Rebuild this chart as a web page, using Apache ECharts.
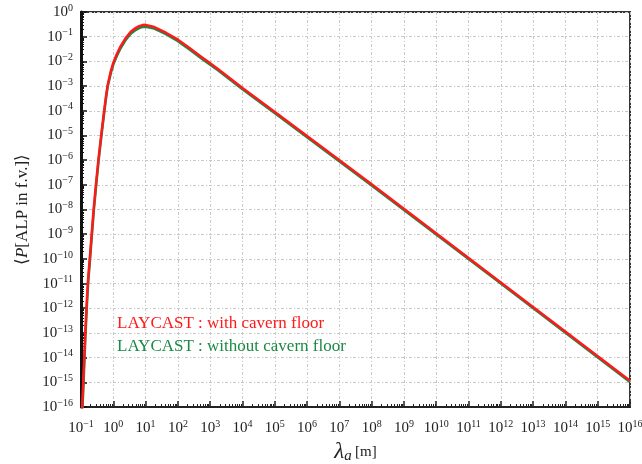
<!DOCTYPE html>
<html>
<head>
<meta charset="utf-8">
<script src="https://cdn.jsdelivr.net/npm/echarts@6/dist/echarts.min.js"></script>
<style>html,body{margin:0;padding:0;background:#fff}#c{width:642px;height:464px}</style>
</head>
<body>
<div id="c"></div>
<script>
// exponents (log10)
const lambdaExpRed = [-0.965,-0.93,-0.90,-0.87,-0.826,-0.785,-0.72,-0.67,-0.61,-0.535,-0.46,-0.38,-0.33,-0.286,-0.23,-0.18,-0.13,-0.078,0,0.11,0.23,0.39,0.54,0.70,0.80,0.90,1.0,1.06,1.27,1.63,1.99,2.35,2.72,3.0,3.23,4,5.15,8,12,16];
const probExpRed   = [-16.1,-15.0,-14.0,-13.05,-11.85,-10.9,-9.85,-9.0,-8.0,-6.95,-5.97,-5.05,-4.5,-4.02,-3.45,-3.0,-2.7,-2.40,-2.05,-1.70,-1.38,-1.04,-0.80,-0.64,-0.57,-0.53,-0.52,-0.53,-0.61,-0.84,-1.11,-1.45,-1.81,-2.08,-2.30,-3.08,-4.19,-6.98,-10.96,-14.94];
const lambdaExpGreen = [-0.955,-0.92,-0.89,-0.86,-0.816,-0.775,-0.71,-0.66,-0.60,-0.525,-0.45,-0.37,-0.32,-0.276,-0.22,-0.17,-0.12,-0.068,0,0.11,0.23,0.39,0.54,0.70,0.80,0.90,1.0,1.06,1.27,1.63,1.99,2.35,2.72,3.0,3.23,4,5.15,8,12,16];
const probExpGreen   = [-16.1,-15.0,-14.0,-13.05,-11.85,-10.9,-9.85,-9.0,-8.0,-6.95,-5.97,-5.05,-4.5,-4.02,-3.45,-3.0,-2.72,-2.44,-2.13,-1.78,-1.46,-1.12,-0.88,-0.72,-0.65,-0.61,-0.60,-0.60,-0.67,-0.90,-1.17,-1.51,-1.87,-2.14,-2.35,-3.13,-4.24,-7.03,-11.0,-14.99];
const seriesNames = ['LAYCAST : with cavern floor','LAYCAST : without cavern floor'];
const xTickExps = [-1,16];
const yTickExps = [-16,0];

const toData = (xs, ys) => xs.map((x, i) => [Math.pow(10, x), Math.pow(10, ys[i])]);
const serif = 'Liberation Serif';
const supLabel = v => {
  const e = Math.round(Math.log10(v));
  return '{b|10}{e|' + String(e).replace('-', '\u2212') + '}';
};
const labelRich = {
  b: {fontFamily: serif, fontSize: 15, color: '#222', lineHeight: 18},
  e: {fontFamily: serif, fontSize: 10, color: '#222', lineHeight: 10, verticalAlign: 'top', padding: [0,0,6,0]}
};
const chart = echarts.init(document.getElementById('c'), null, {renderer: 'canvas'});
chart.setOption({
  animation: false,
  backgroundColor: '#fff',
  grid: {left: 81, right: 12, top: 12, bottom: 57, containLabel: false, outerBoundsMode: 'none', show: true, borderColor: '#333', borderWidth: 2},
  legend: {
    orient: 'vertical', left: 107, top: 310, icon: 'none', itemWidth: 0, itemGap: 6,
    data: [
      {name: seriesNames[0], textStyle: {color: '#ff1a1a'}},
      {name: seriesNames[1], textStyle: {color: '#1b8a45'}}
    ],
    textStyle: {fontFamily: serif, fontSize: 17}
  },
  xAxis: {
    type: 'log', logBase: 10,
    min: Math.pow(10, xTickExps[0]), max: Math.pow(10, xTickExps[1]),
    interval: 1, splitNumber: 17,
    name: '{l|\u03bb}{a|a} {m|[m]}', nameLocation: 'middle', nameGap: 25,
    nameTextStyle: {rich: {
      l: {fontFamily: serif, fontStyle: 'italic', fontSize: 23, color: '#222'},
      a: {fontFamily: serif, fontStyle: 'italic', fontSize: 15, color: '#222', verticalAlign: 'bottom', padding: [8,0,0,0]},
      m: {fontFamily: serif, fontSize: 15, color: '#222'}
    }},
    axisLine: {lineStyle: {color: '#222', width: 2}},
    axisTick: {inside: true, length: 6, lineStyle: {color: '#222', width: 1.5}},
    minorTick: {show: true, splitNumber: 9, length: 3, lineStyle: {color: '#222'}},
    axisLabel: {formatter: supLabel, rich: labelRich, margin: 12},
    splitLine: {show: true, lineStyle: {color: '#c8c8c8', type: [3,2,1,2], width: 1}}
  },
  yAxis: {
    type: 'log', logBase: 10,
    min: Math.pow(10, yTickExps[0]), max: Math.pow(10, yTickExps[1]),
    interval: 1, splitNumber: 16,
    name: '{t|\u27e8}{p|P}{t|[ALP in f.v.]\u27e9}', nameLocation: 'middle', nameGap: 50, nameRotate: 90,
    nameTextStyle: {rich: {
      t: {fontFamily: serif, fontSize: 17, color: '#222'},
      p: {fontFamily: serif, fontStyle: 'italic', fontSize: 17, color: '#222'}
    }},
    axisLine: {lineStyle: {color: '#111', width: 3}},
    axisTick: {inside: true, length: 6, lineStyle: {color: '#111', width: 1.5}},
    minorTick: {show: true, splitNumber: 9, length: 3, lineStyle: {color: '#111'}},
    axisLabel: {formatter: supLabel, rich: labelRich, margin: 8},
    splitLine: {show: true, lineStyle: {color: '#c8c8c8', type: [3,2,1,2], width: 1}}
  },
  series: [
    {name: seriesNames[1], type: 'line', data: toData(lambdaExpGreen, probExpGreen), showSymbol: false, smooth: false, lineStyle: {color: '#1b8a45', width: 2.5, join: 'round'}, itemStyle: {color: '#1b8a45'}, z: 2},
    {name: seriesNames[0], type: 'line', data: toData(lambdaExpRed, probExpRed), showSymbol: false, smooth: false, lineStyle: {color: '#ff1a1a', width: 2.5, join: 'round'}, itemStyle: {color: '#ff1a1a'}, z: 3}
  ]
});
</script>
</body>
</html>
